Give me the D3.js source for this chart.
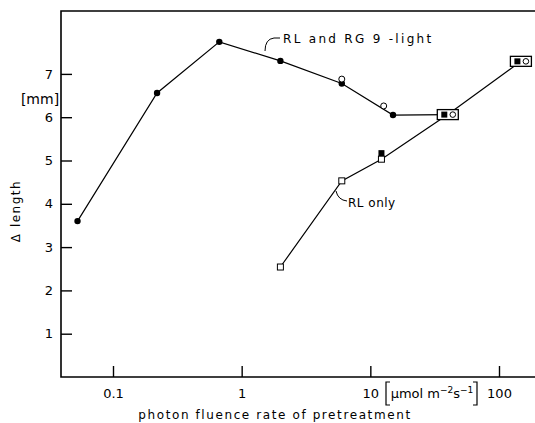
<!DOCTYPE html>
<html>
<head>
<meta charset="utf-8">
<script src="https://cdn.jsdelivr.net/npm/d3@7"></script>
<style>
	body { margin: 0; background: #fff; }
	svg { font-family: 'DejaVu Sans', sans-serif; }
	.lbl { font-size: 12px; fill: #000; }
</style>
</head>
<body>
<script>
// RL and RG 9-light, filled circles joined by the line
const rgX = [0.053, 0.22, 0.67, 2.0, 6.0, 15, 40];
const rgY = [3.6, 6.56, 7.74, 7.3, 6.78, 6.05, 6.06];
// open circles (second measurement)
const rgOpenX = [6.0, 12.7];
const rgOpenY = [6.88, 6.26];
// RL only, open squares
const rlX = [2.0, 6.0, 12.2, 40, 148];
const rlY = [2.54, 4.53, 5.03, 6.06, 7.29];
// single filled square
const rlFilledX = [12.2];
const rlFilledY = [5.17];
// boxed points (both treatments)
const boxX = [40, 148];
const boxY = [6.06, 7.29];

const xTicks = [0.1, 1, 10, 100];
const yTicks = [1, 2, 3, 4, 5, 6, 7];

const width = 535, height = 423;
const plotLeft = 61, plotTop = 11, plotBottom = 377;

const svg = d3.select('body').append('svg')
	.attr('width', width)
	.attr('height', height);

const x = d3.scaleLog()
	.domain([0.1, 100])
	.range([113, 499]);

const y = d3.scaleLinear()
	.domain([0, 7])
	.range([plotBottom, plotBottom - 7 * 43.3]);

// frame: left axis, top line, bottom line
svg.append('path')
	.attr('d', 'M' + width + ',' + plotTop + 'H' + plotLeft + 'V' + plotBottom + 'H' + width)
	.attr('fill', 'none')
	.attr('stroke', '#000')
	.attr('stroke-width', 1.6);

const xAxis = svg.append('g')
	.attr('transform', 'translate(0,' + plotBottom + ')')
	.call(d3.axisBottom(x).tickValues(xTicks).tickSize(-11).tickPadding(12)
		.tickFormat(function(d) { return d < 1 ? '0.1' : d3.format('d')(d); }));
xAxis.select('.domain').remove();

const yAxis = svg.append('g')
	.attr('transform', 'translate(' + plotLeft + ',0)')
	.call(d3.axisLeft(y).tickValues(yTicks).tickSize(-11).tickPadding(8)
		.tickFormat(d3.format('d')));
yAxis.select('.domain').remove();

svg.selectAll('.tick line').attr('stroke', '#000').attr('stroke-width', 1.4);
svg.selectAll('.tick text').attr('font-size', 13).attr('fill', '#000')
	.attr('font-family', 'DejaVu Sans');

const line = d3.line()
	.x(function(d) { return x(d[0]); })
	.y(function(d) { return y(d[1]); });

svg.append('path')
	.datum(d3.zip(rgX, rgY))
	.attr('d', line)
	.attr('fill', 'none')
	.attr('stroke', '#000')
	.attr('stroke-width', 1.2);

svg.append('path')
	.datum(d3.zip(rlX, rlY))
	.attr('d', line)
	.attr('fill', 'none')
	.attr('stroke', '#000')
	.attr('stroke-width', 1.2);

// filled circles (not the boxed one)
svg.selectAll('.fc')
	.data(d3.zip(rgX, rgY).slice(0, rgX.length - 1))
	.enter().append('circle')
	.attr('cx', function(d) { return x(d[0]); })
	.attr('cy', function(d) { return y(d[1]); })
	.attr('r', 3.2)
	.attr('fill', '#000');

svg.selectAll('.oc')
	.data(d3.zip(rgOpenX, rgOpenY))
	.enter().append('circle')
	.attr('cx', function(d) { return x(d[0]); })
	.attr('cy', function(d) { return y(d[1]); })
	.attr('r', 3)
	.attr('fill', '#fff')
	.attr('stroke', '#000')
	.attr('stroke-width', 1);

svg.selectAll('.fs')
	.data(d3.zip(rlFilledX, rlFilledY))
	.enter().append('rect')
	.attr('x', function(d) { return x(d[0]) - 3; })
	.attr('y', function(d) { return y(d[1]) - 3; })
	.attr('width', 6).attr('height', 6)
	.attr('fill', '#000');

// open squares (not the boxed ones)
svg.selectAll('.os')
	.data(d3.zip(rlX, rlY).slice(0, 3))
	.enter().append('rect')
	.attr('x', function(d) { return x(d[0]) - 3; })
	.attr('y', function(d) { return y(d[1]) - 3; })
	.attr('width', 6).attr('height', 6)
	.attr('fill', '#fff')
	.attr('stroke', '#000')
	.attr('stroke-width', 1);

// boxes holding a filled square and an open circle
const boxes = svg.selectAll('.box')
	.data(d3.zip(boxX, boxY))
	.enter().append('g')
	.attr('transform', function(d) { return 'translate(' + x(d[0]) + ',' + y(d[1]) + ')'; });
boxes.append('rect')
	.attr('x', -10.5).attr('y', -5)
	.attr('width', 21).attr('height', 10)
	.attr('fill', '#fff')
	.attr('stroke', '#000')
	.attr('stroke-width', 1.3);
boxes.append('rect')
	.attr('x', -6.5).attr('y', -3)
	.attr('width', 6).attr('height', 6)
	.attr('fill', '#000');
boxes.append('circle')
	.attr('cx', 5).attr('cy', 0).attr('r', 2.8)
	.attr('fill', '#fff')
	.attr('stroke', '#000')
	.attr('stroke-width', 1);

// curve labels
svg.append('path')
	.attr('d', 'M265,51 Q265,39 274,38 H280')
	.attr('fill', 'none').attr('stroke', '#000').attr('stroke-width', 1);
svg.append('text').attr('class', 'lbl')
	.attr('x', 283).attr('y', 43)
	.attr('font-size', 13)
	.attr('letter-spacing', 2.3)
	.text('RL and RG 9 -light');

svg.append('path')
	.attr('d', 'M336,191 Q338,200 347,201')
	.attr('fill', 'none').attr('stroke', '#000').attr('stroke-width', 1);
svg.append('text').attr('class', 'lbl')
	.attr('x', 348).attr('y', 207)
	.attr('font-size', 13)
	.attr('letter-spacing', 0.5)
	.text('RL only');

// y axis titles
svg.append('text')
	.attr('transform', 'translate(20,211) rotate(-90)')
	.attr('text-anchor', 'middle')
	.attr('font-size', 12)
	.attr('letter-spacing', 1.5)
	.text('\u0394 length');

svg.append('text')
	.attr('x', 40).attr('y', 104)
	.attr('text-anchor', 'middle')
	.attr('font-size', 14)
	.text('[mm]');

// x unit with brackets
svg.append('path')
	.attr('d', 'M390,382 H386 V405 H390 M473,382 H477 V405 H473')
	.attr('fill', 'none').attr('stroke', '#000').attr('stroke-width', 1.2);
const unit = svg.append('text')
	.attr('x', 432).attr('y', 398)
	.attr('text-anchor', 'middle')
	.attr('font-size', 13);
unit.append('tspan').text('\u03bcmol m');
unit.append('tspan').attr('dy', -5).attr('font-size', 9).text('\u22122');
unit.append('tspan').attr('dy', 5).text('s');
unit.append('tspan').attr('dy', -5).attr('font-size', 9).text('\u22121');

svg.append('text')
	.attr('x', 275).attr('y', 419)
	.attr('text-anchor', 'middle')
	.attr('font-size', 12)
	.attr('letter-spacing', 1.6)
	.text('photon fluence rate of pretreatment');
</script>
</body>
</html>
